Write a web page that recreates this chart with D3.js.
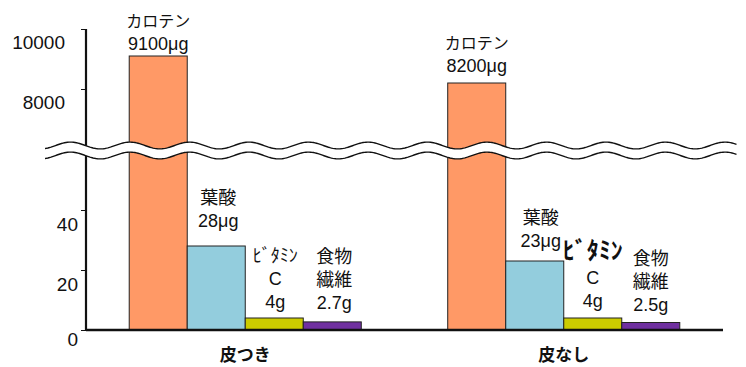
<!DOCTYPE html>
<html>
<head>
<meta charset="utf-8">
<script src="https://cdn.jsdelivr.net/npm/d3@7"></script>
<style>
  html, body { margin: 0; padding: 0; background: #fff; }
  svg { display: block; }
  text { font-family: "Liberation Sans", Arial, "Noto Sans CJK JP", sans-serif; fill: #111; }
</style>
</head>
<body>
<svg id="chart" width="746" height="367"></svg>
<script>
// Nutrient content of carrots, with and without the skin
const categories = ["皮つき", "皮なし"];
const nutrients = ["カロテン", "葉酸", "ビタミンC", "食物繊維"];
const nameLines = [["カロテン"], ["葉酸"], ["ﾋﾞﾀﾐﾝ", "C"], ["食物", "繊維"]];
const units = ["μg", "μg", "g", "g"];
const valueLabels = [["9100", "28", "4", "2.7"], ["8200", "23", "4", "2.5"]];
const valuesWithSkin = [9100, 28, 4, 2.7];
const valuesPeeled = [8200, 23, 4, 2.5];
const upperTicks = [8000, 10000];
const lowerTicks = [0, 20, 40];
const colors = ["#FF9966", "#93CDDD", "#CCCC00", "#7030A0"];

const seriesValues = [valuesWithSkin, valuesPeeled];

// label placement: gap between last text baseline and bar top, and horizontal nudge
const labelGap = [[6, 19, 10, 13], [11, 14, 11, 12]];
const labelNudge = [[0, 2, 1, 2], [0, 6, 0, 0]];

const svg = d3.select("#chart");

const x0 = d3.scaleBand().domain(categories).range([86, 723]).padding(0);
const x1 = d3.scaleBand().domain(nutrients).range([0, x0.bandwidth()])
  .paddingInner(0).paddingOuter(0.745);

// broken value axis: lower segment for small amounts, upper one for carotene
const yLow = d3.scaleLinear().domain([0, 40]).range([330, 210]);
const yHigh = d3.scaleLinear().domain([8000, 10000]).range([89, 29]);
const lowMax = 60;
const yOf = v => (v > lowMax ? yHigh(v) : yLow(v));

const rows = [];
categories.forEach((c, gi) => {
  nutrients.forEach((n, ni) => {
    rows.push({ c, n, gi, ni, v: seriesValues[gi][ni] });
  });
});

// bars
svg.append("g").selectAll("rect").data(rows).join("rect")
  .attr("x", d => x0(d.c) + x1(d.n))
  .attr("width", x1.bandwidth())
  .attr("y", d => yOf(d.v))
  .attr("height", d => yLow(0) - yOf(d.v))
  .attr("fill", d => colors[d.ni])
  .attr("stroke", "#222")
  .attr("stroke-width", 1);

// axes
const axisX = 86;
const yAxisUpper = svg.append("g").attr("transform", `translate(${axisX},0)`)
  .call(d3.axisLeft(yHigh).tickValues(upperTicks).tickSize(5).tickFormat(d3.format("d")));
const yAxisLower = svg.append("g").attr("transform", `translate(${axisX},0)`)
  .call(d3.axisLeft(yLow).tickValues(lowerTicks).tickSize(5).tickFormat(d3.format("d")));
[yAxisUpper, yAxisLower].forEach(g => {
  g.select(".domain").remove();
  g.selectAll(".tick line").attr("stroke", "#111").attr("stroke-width", 1);
  g.selectAll(".tick text").attr("font-size", 19).attr("dy", null)
    .style("font-family", "'Liberation Sans', Arial, sans-serif").attr("fill", "#111");
});
yAxisUpper.selectAll(".tick text").attr("x", -21).attr("y", 19);
yAxisLower.selectAll(".tick text").attr("x", -8).attr("y", d => (d === 0 ? 15 : 20));

svg.append("line")
  .attr("x1", axisX).attr("x2", axisX)
  .attr("y1", yHigh(10000)).attr("y2", yLow(0) + 1)
  .attr("stroke", "#111").attr("stroke-width", 2.2);
svg.append("line")
  .attr("x1", axisX).attr("x2", 723)
  .attr("y1", yLow(0)).attr("y2", yLow(0))
  .attr("stroke", "#111").attr("stroke-width", 2.6);

// wavy break marks across the plot
const waveX = d3.range(45, 737.5, 1.5);
const period = 59.5, amp = 3.4, crestX = 130;
const waveY = (x, c) => c - amp * Math.cos(2 * Math.PI * (x - crestX) / period);
const topC = 145.5, botC = 155.5;
svg.append("path")
  .datum(waveX)
  .attr("d", d3.area().x(x => x).y0(x => waveY(x, topC)).y1(x => waveY(x, botC)))
  .attr("fill", "#fff");
[topC, botC].forEach(c => {
  svg.append("path")
    .datum(waveX)
    .attr("d", d3.line().x(x => x).y(x => waveY(x, c)))
    .attr("fill", "none").attr("stroke", "#111").attr("stroke-width", 1.4);
});

// value labels above each bar
const lineH = 23;
rows.forEach(d => {
  const lines = nameLines[d.ni].concat([valueLabels[d.gi][d.ni] + units[d.ni]]);
  const cx = x0(d.c) + x1(d.n) + x1.bandwidth() / 2 + labelNudge[d.gi][d.ni];
  const lastBase = yOf(d.v) - labelGap[d.gi][d.ni];
  lines.forEach((t, li) => {
    const base = lastBase - (lines.length - 1 - li) * lineH;
    const big = d.gi === 1 && d.ni === 2 && li === 0;
    const kata = d.ni === 0 && li === 0;
    svg.append("text")
      .attr("x", cx + (big ? 0 : 0))
      .attr("y", big ? base - 2 : base)
      .attr("text-anchor", "middle")
      .attr("font-size", big ? 24 : (kata ? 16 : 18))
      .attr("font-weight", big ? "bold" : "normal")
      .text(t);
  });
});

// category labels
svg.append("g").selectAll("text").data(categories).join("text")
  .attr("x", d => x0(d) + x0.bandwidth() / 2)
  .attr("y", 361)
  .attr("text-anchor", "middle")
  .attr("font-size", 17)
  .attr("font-weight", "bold")
  .text(d => d);
</script>
</body>
</html>
